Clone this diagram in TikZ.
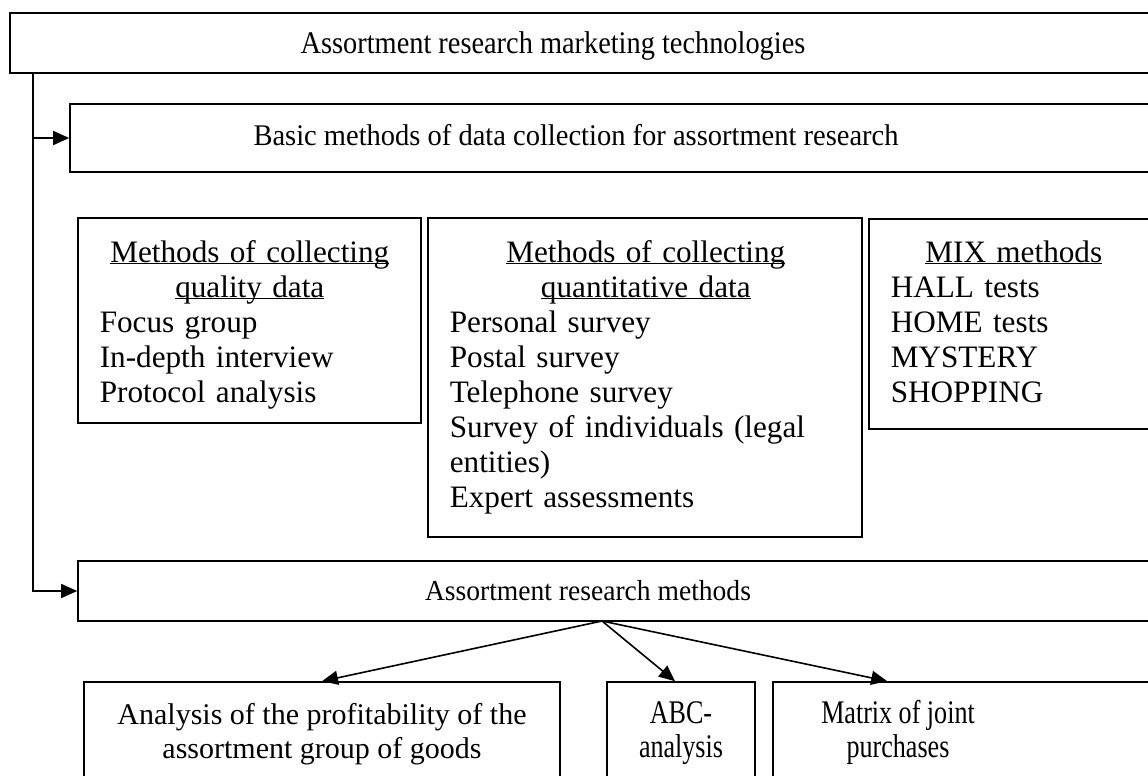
\documentclass[tikz,border=0pt]{standalone}
\usepackage{fontspec}
\setmainfont{Liberation Serif}
\newfontfamily\slimA{Liberation Serif}[FakeStretch=0.95]
\newfontfamily\slimB{Liberation Serif}[FakeStretch=0.90]
\newfontfamily\slimC{Liberation Serif}[FakeStretch=0.79]
\usetikzlibrary{arrows.meta,calc}
\newcommand{\hd}[1]{\makebox[\linewidth]{\underline{\smash{#1}}}}

\begin{document}
\begin{tikzpicture}[
        x=1pt, y=-1pt,
        line width=1.6pt,
        every node/.style={font=\fontsize{30}{34}\selectfont},
        box/.style={draw, inner sep=0},
        txt/.style={inner sep=0, anchor=base, align=center},
        head/.style={txt, font=\fontsize{30}{34}\selectfont\slimA},
        lst/.style={inner sep=0, anchor=base west, align=left, font=\fontsize{31.2}{35}\selectfont},
        slim/.style={txt, font=\fontsize{33}{34}\selectfont\slimC},
        >={Triangle[length=16pt,width=14pt]}
    ]
        \useasboundingbox (0,0) rectangle (1148,776);
        \clip (0,0) rectangle (1148,776);

        % boxes (the ones on the right run past the edge)
        \node[box, minimum width=1160pt, minimum height=60pt] (tech) at (590,43) {};
        \node[box, minimum width=1100pt, minimum height=68pt] (basic) at (620,138) {};
        \node[box, minimum width=343pt, minimum height=205pt] (qual) at (249.5,320.5) {};
        \node[box, minimum width=434pt, minimum height=319pt] (quant) at (645,377.5) {};
        \node[box, minimum width=301pt, minimum height=210pt] (mix) at (1019.5,324) {};
        \node[box, minimum width=1092pt, minimum height=60pt] (meth) at (624,591) {};
        \node[box, minimum width=476pt, minimum height=118pt] (profit) at (322,741) {};
        \node[box, minimum width=148pt, minimum height=118pt] (abc) at (681,741) {};
        \node[box, minimum width=397pt, minimum height=118pt] (joint) at (971.5,741) {};

        % texts
        \node[head, font=\fontsize{31.5}{34}\selectfont\slimB] (techtxt) at (553,53) {Assortment research marketing technologies};
        \node[head] (basictxt) at (576,145) {Basic methods of data collection for assortment research};
        \node[head, font=\fontsize{29}{34}\selectfont\slimA] (methtxt) at (588,600) {Assortment research methods};
        \node[lst, text width=300pt] (qualtxt) at (99,262)
            {\hd{Methods of collecting}\\\hd{quality data}\\Focus group\\In-depth interview\\Protocol analysis};
        \node[lst, text width=392pt] (quanttxt) at (449,262)
            {\hd{Methods of collecting}\\\hd{quantitative data}\\Personal survey\\Postal survey\\Telephone survey\\Survey of individuals (legal\\entities)\\Expert assessments};
        \node[lst, text width=246pt] (mixtxt) at (890,262)
            {\hd{MIX methods}\\HALL tests\\HOME tests\\MYSTERY\\SHOPPING};
        \node[txt] (profittxt) at (322,758) {Analysis of the profitability of the\\assortment group of goods};
        \node[slim] (abctxt) at (681,757) {ABC-\\analysis};
        \node[slim] (jointtxt) at (898,757) {Matrix of joint\\purchases};

        % connectors
        \coordinate (spine) at (33,73);
        \draw[->] (spine) |- (basic.west);
        \draw[->] (spine) |- (meth.west);

        \coordinate (split) at (602,621);
        \draw[->] (split) -- (profit.north);
        \draw[->] (split) -- ($(abc.north)+(-6,0)$);
        \draw[->] (split) -- ($(joint.north west)+(115,0)$);
    \end{tikzpicture}
\end{document}
